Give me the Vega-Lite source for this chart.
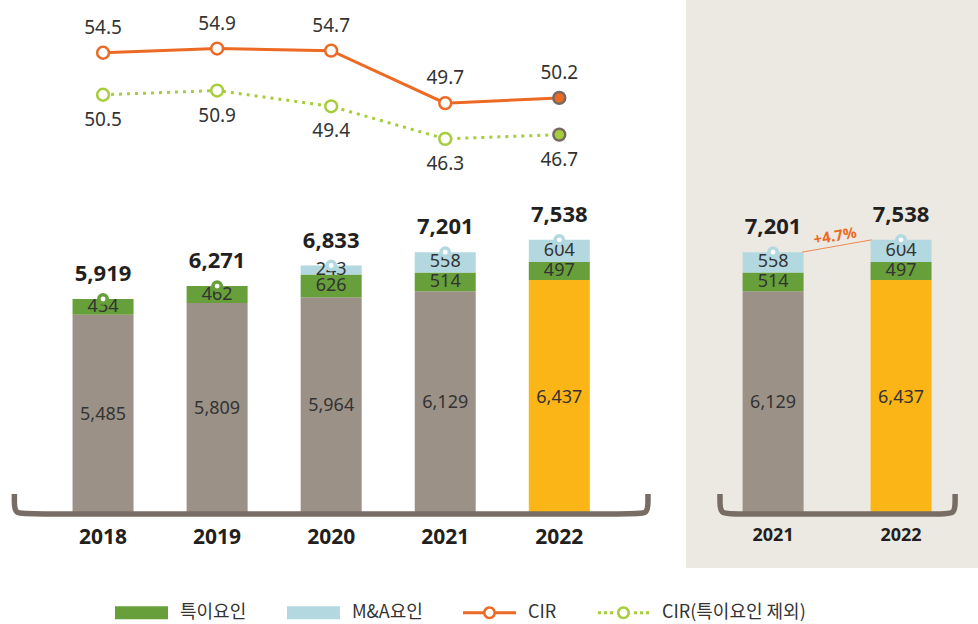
{
  "$schema": "https://vega.github.io/schema/vega-lite/v6.json",
  "padding": 0,
  "autosize": {"type": "pad"},
  "background": "white",
  "spacing": 0,
  "bounds": "flush",
  "config": {
    "view": {"stroke": null},
    "font": "Noto Sans",
    "legend": {
      "orient": "none",
      "legendX": 115,
      "legendY": 586,
      "direction": "horizontal",
      "symbolSize": 2809,
      "symbolStrokeWidth": 0,
      "symbolOpacity": 1,
      "labelOffset": 12,
      "columnPadding": 40,
      "labelFont": "Noto Sans CJK KR",
      "labelFontSize": 18,
      "labelColor": "#333333",
      "padding": 0
    }
  },
  "datasets": {
    "bars": [
      {"year": 2018, "type": "기본", "ord": 1, "value": 5485},
      {"year": 2018, "type": "특이요인", "ord": 2, "value": 434},
      {"year": 2019, "type": "기본", "ord": 1, "value": 5809},
      {"year": 2019, "type": "특이요인", "ord": 2, "value": 462},
      {"year": 2020, "type": "기본", "ord": 1, "value": 5964},
      {"year": 2020, "type": "특이요인", "ord": 2, "value": 626},
      {"year": 2020, "type": "M&A요인", "ord": 3, "value": 243},
      {"year": 2021, "type": "기본", "ord": 1, "value": 6129},
      {"year": 2021, "type": "특이요인", "ord": 2, "value": 514},
      {"year": 2021, "type": "M&A요인", "ord": 3, "value": 558},
      {"year": 2022, "type": "기본", "ord": 1, "value": 6437},
      {"year": 2022, "type": "특이요인", "ord": 2, "value": 497},
      {"year": 2022, "type": "M&A요인", "ord": 3, "value": 604}
    ],
    "totals": [
      {"year": 2018, "total": 5919},
      {"year": 2019, "total": 6271},
      {"year": 2020, "total": 6833},
      {"year": 2021, "total": 7201},
      {"year": 2022, "total": 7538}
    ],
    "ratio": [
      {"year": 2018, "cir": 54.5, "excl": 50.5},
      {"year": 2019, "cir": 54.9, "excl": 50.9},
      {"year": 2020, "cir": 54.7, "excl": 49.4},
      {"year": 2021, "cir": 49.7, "excl": 46.3},
      {"year": 2022, "cir": 50.2, "excl": 46.7}
    ],
    "growth": [
      {"from": 2021.2264, "to": 2021.7698, "v0": 7201, "v1": 7538, "mid": 2021.498, "vm": 7369.5, "label": "+4.7%"}
    ],
    "bracketL": [
      {"o": 1, "x": 2017.2225, "y": 575},
      {"o": 2, "x": 2017.2225, "y": 411},
      {"o": 3, "x": 2017.2225, "y": 27},
      {"o": 4, "x": 2017.3391, "y": 27},
      {"o": 5, "x": 2022.6652, "y": 27},
      {"o": 6, "x": 2022.7775, "y": 27},
      {"o": 7, "x": 2022.7775, "y": 411},
      {"o": 8, "x": 2022.7775, "y": 575}
    ],
    "bracketR": [
      {"o": 1, "x": 2020.5849, "y": 575},
      {"o": 2, "x": 2020.5849, "y": 411},
      {"o": 3, "x": 2020.5849, "y": 27},
      {"o": 4, "x": 2020.6868, "y": 27},
      {"o": 5, "x": 2022.3245, "y": 27},
      {"o": 6, "x": 2022.4226, "y": 27},
      {"o": 7, "x": 2022.4226, "y": 411},
      {"o": 8, "x": 2022.4226, "y": 575}
    ],
    "legend": [
      {"item": "특이요인"},
      {"item": "M&A요인"},
      {"item": "CIR"},
      {"item": "CIR(특이요인 제외)"}
    ]
  },
  "vconcat": [
    {
      "spacing": 0,
      "bounds": "flush",
      "hconcat": [
        {
          "width": 686,
          "height": 568,
          "layer": [
            {
              "layer": [
                {
                  "data": {"name": "bars"},
                  "mark": {"type": "bar", "width": 61},
                  "encoding": {
                    "x": {"field": "year", "type": "quantitative", "scale": {"domain": [2017.1404, 2023.067], "nice": false, "zero": false}, "axis": null},
                    "y": {"field": "value", "type": "quantitative", "stack": "zero", "scale": {"domain": [-1452, 14109], "nice": false, "zero": false}, "axis": null},
                    "detail": {"field": "type", "type": "nominal"},
                    "order": {"field": "ord", "type": "quantitative"},
                    "color": {
                      "condition": [
                        {"test": "datum.type === '특이요인'", "value": "#679f3a"},
                        {"test": "datum.type === 'M&A요인'", "value": "#b3d8e0"},
                        {"test": "datum.year === 2022", "value": "#fbb516"}
                      ],
                      "value": "#9c9187"
                    }
                  }
                },
                {
                  "data": {"name": "bars"},
                  "mark": {"type": "text", "fontSize": 18, "color": "#333333", "baseline": "middle", "align": "center"},
                  "encoding": {
                    "x": {"field": "year", "type": "quantitative"},
                    "y": {"field": "value", "type": "quantitative", "stack": "zero", "bandPosition": 0.5},
                    "detail": {"field": "type", "type": "nominal"},
                    "order": {"field": "ord", "type": "quantitative"},
                    "text": {"field": "value", "type": "quantitative", "format": ","}
                  }
                },
                {
                  "data": {"name": "bracketL"},
                  "mark": {"type": "line", "color": "#786d64", "strokeWidth": 5.5, "interpolate": "basis", "strokeCap": "butt"},
                  "encoding": {
                    "x": {"field": "x", "type": "quantitative"},
                    "y": {"field": "y", "type": "quantitative"},
                    "order": {"field": "o", "type": "quantitative"}
                  }
                },
                {
                  "data": {"name": "totals"},
                  "mark": {"type": "point", "filled": true, "opacity": 1, "size": 71, "strokeWidth": 3.5, "fill": "white"},
                  "encoding": {
                    "x": {"field": "year", "type": "quantitative"},
                    "y": {"field": "total", "type": "quantitative"},
                    "stroke": {"condition": {"test": "datum.year <= 2019", "value": "#679f3a"}, "value": "#b3d8e0"}
                  }
                },
                {
                  "data": {"name": "totals"},
                  "mark": {"type": "text", "fontSize": 22, "fontWeight": "bold", "color": "#231f20", "baseline": "middle", "dy": -25},
                  "encoding": {
                    "x": {"field": "year", "type": "quantitative"},
                    "y": {"field": "total", "type": "quantitative"},
                    "text": {"field": "total", "type": "quantitative", "format": ","}
                  }
                },
                {
                  "data": {"name": "totals"},
                  "mark": {"type": "text", "fontSize": 21, "fontWeight": "bold", "color": "#231f20", "baseline": "middle"},
                  "encoding": {
                    "x": {"field": "year", "type": "quantitative"},
                    "y": {"datum": -630, "type": "quantitative"},
                    "text": {"field": "year", "type": "nominal"}
                  }
                }
              ]
            },
            {
              "data": {"name": "ratio"},
              "layer": [
                {
                  "mark": {"type": "line", "color": "#ec6a24", "strokeWidth": 3},
                  "encoding": {
                    "x": {"field": "year", "type": "quantitative"},
                    "y": {"field": "cir", "type": "quantitative", "scale": {"domain": [5.429, 59.524], "nice": false, "zero": false}, "axis": null}
                  }
                },
                {
                  "mark": {"type": "line", "color": "#a6cd3a", "strokeWidth": 3, "strokeDash": [3, 5]},
                  "encoding": {
                    "x": {"field": "year", "type": "quantitative"},
                    "y": {"field": "excl", "type": "quantitative"}
                  }
                },
                {
                  "mark": {"type": "point", "filled": true, "opacity": 1, "size": 140, "strokeWidth": 2.5},
                  "encoding": {
                    "x": {"field": "year", "type": "quantitative"},
                    "y": {"field": "cir", "type": "quantitative"},
                    "fill": {"condition": {"test": "datum.year === 2022", "value": "#ec6a24"}, "value": "white"},
                    "stroke": {"condition": {"test": "datum.year === 2022", "value": "#776b61"}, "value": "#ec6a24"}
                  }
                },
                {
                  "mark": {"type": "point", "filled": true, "opacity": 1, "size": 140, "strokeWidth": 2.5},
                  "encoding": {
                    "x": {"field": "year", "type": "quantitative"},
                    "y": {"field": "excl", "type": "quantitative"},
                    "fill": {"condition": {"test": "datum.year === 2022", "value": "#a6cd3a"}, "value": "white"},
                    "stroke": {"condition": {"test": "datum.year === 2022", "value": "#776b61"}, "value": "#a6cd3a"}
                  }
                },
                {
                  "mark": {"type": "text", "fontSize": 19, "color": "#333333", "baseline": "middle", "dy": -25},
                  "encoding": {
                    "x": {"field": "year", "type": "quantitative"},
                    "y": {"field": "cir", "type": "quantitative"},
                    "text": {"field": "cir", "type": "quantitative", "format": ".1f"}
                  }
                },
                {
                  "mark": {"type": "text", "fontSize": 19, "color": "#333333", "baseline": "middle", "dy": 25},
                  "encoding": {
                    "x": {"field": "year", "type": "quantitative"},
                    "y": {"field": "excl", "type": "quantitative"},
                    "text": {"field": "excl", "type": "quantitative", "format": ".1f"}
                  }
                }
              ]
            }
          ],
          "resolve": {"scale": {"y": "independent"}}
        },
        {
          "width": 292,
          "height": 568,
          "view": {"fill": "#ece9e3", "stroke": null},
          "layer": [
            {
              "data": {"name": "bars"},
              "transform": [{"filter": "datum.year >= 2021"}],
              "mark": {"type": "bar", "width": 61},
              "encoding": {
                "x": {"field": "year", "type": "quantitative", "scale": {"domain": [2020.3585, 2022.5623], "nice": false, "zero": false}, "axis": null},
                "y": {"field": "value", "type": "quantitative", "stack": "zero", "scale": {"domain": [-1452, 14109], "nice": false, "zero": false}, "axis": null},
                "detail": {"field": "type", "type": "nominal"},
                "order": {"field": "ord", "type": "quantitative"},
                "color": {
                  "condition": [
                    {"test": "datum.type === '특이요인'", "value": "#679f3a"},
                    {"test": "datum.type === 'M&A요인'", "value": "#b3d8e0"},
                    {"test": "datum.year === 2022", "value": "#fbb516"}
                  ],
                  "value": "#9c9187"
                }
              }
            },
            {
              "data": {"name": "bars"},
              "transform": [{"filter": "datum.year >= 2021"}],
              "mark": {"type": "text", "fontSize": 18, "color": "#333333", "baseline": "middle", "align": "center"},
              "encoding": {
                "x": {"field": "year", "type": "quantitative"},
                "y": {"field": "value", "type": "quantitative", "stack": "zero", "bandPosition": 0.5},
                "detail": {"field": "type", "type": "nominal"},
                "order": {"field": "ord", "type": "quantitative"},
                "text": {"field": "value", "type": "quantitative", "format": ","}
              }
            },
            {
              "data": {"name": "bracketR"},
              "mark": {"type": "line", "color": "#786d64", "strokeWidth": 5.5, "interpolate": "basis", "strokeCap": "butt"},
              "encoding": {
                "x": {"field": "x", "type": "quantitative"},
                "y": {"field": "y", "type": "quantitative"},
                "order": {"field": "o", "type": "quantitative"}
              }
            },
            {
              "data": {"name": "growth"},
              "mark": {"type": "rule", "color": "#ef8a4f", "strokeWidth": 1},
              "encoding": {
                "x": {"field": "from", "type": "quantitative"},
                "x2": {"field": "to"},
                "y": {"field": "v0", "type": "quantitative"},
                "y2": {"field": "v1"}
              }
            },
            {
              "data": {"name": "growth"},
              "mark": {"type": "text", "fontSize": 15, "fontWeight": "bold", "color": "#ec6a24", "baseline": "middle", "angle": 350, "dy": -10},
              "encoding": {
                "x": {"field": "mid", "type": "quantitative"},
                "y": {"field": "vm", "type": "quantitative"},
                "text": {"field": "label", "type": "nominal"}
              }
            },
            {
              "data": {"name": "totals"},
              "transform": [{"filter": "datum.year >= 2021"}],
              "mark": {"type": "point", "filled": true, "opacity": 1, "size": 71, "strokeWidth": 3.5, "fill": "white", "stroke": "#b3d8e0"},
              "encoding": {
                "x": {"field": "year", "type": "quantitative"},
                "y": {"field": "total", "type": "quantitative"}
              }
            },
            {
              "data": {"name": "totals"},
              "transform": [{"filter": "datum.year >= 2021"}],
              "mark": {"type": "text", "fontSize": 22, "fontWeight": "bold", "color": "#231f20", "baseline": "middle", "dy": -25},
              "encoding": {
                "x": {"field": "year", "type": "quantitative"},
                "y": {"field": "total", "type": "quantitative"},
                "text": {"field": "total", "type": "quantitative", "format": ","}
              }
            },
            {
              "data": {"name": "totals"},
              "transform": [{"filter": "datum.year >= 2021"}],
              "mark": {"type": "text", "fontSize": 18, "fontWeight": "bold", "color": "#231f20", "baseline": "middle"},
              "encoding": {
                "x": {"field": "year", "type": "quantitative"},
                "y": {"datum": -575, "type": "quantitative"},
                "text": {"field": "year", "type": "nominal"}
              }
            }
          ]
        }
      ]
    },
    {
      "width": 978,
      "height": 56,
      "data": {"name": "legend"},
      "mark": {"type": "point", "filled": true, "opacity": 1, "strokeWidth": 0, "clip": true},
      "encoding": {
        "x": {"datum": 5, "type": "quantitative", "scale": {"domain": [0, 1], "nice": false, "zero": false}, "axis": null},
        "y": {"datum": 5, "type": "quantitative", "scale": {"domain": [0, 1], "nice": false, "zero": false}, "axis": null},
        "shape": {
          "field": "item", "type": "nominal",
          "scale": {
            "domain": ["특이요인", "M&A요인", "CIR", "CIR(특이요인 제외)"],
            "range": [
              "M-1,-0.245H1V0.245H-1Z",
              "M-1,-0.245H1V0.245H-1Z",
              "M-1,-0.06H-0.2V0.06H-1Z M0.2,-0.06H1V0.06H0.2Z M0.245,0A0.245,0.245,0,1,1,-0.245,0A0.245,0.245,0,1,1,0.245,0Z M0.151,0A0.151,0.151,0,1,0,-0.151,0A0.151,0.151,0,1,0,0.151,0Z",
              "M-0.966,-0.06H-0.846V0.06H-0.966Z M-0.739,-0.06H-0.619V0.06H-0.739Z M-0.513,-0.06H-0.393V0.06H-0.513Z M0.393,-0.06H0.513V0.06H0.393Z M0.619,-0.06H0.739V0.06H0.619Z M0.846,-0.06H0.966V0.06H0.846Z M0.245,0A0.245,0.245,0,1,1,-0.245,0A0.245,0.245,0,1,1,0.245,0Z M0.151,0A0.151,0.151,0,1,0,-0.151,0A0.151,0.151,0,1,0,0.151,0Z"
            ]
          },
          "legend": {"title": null}
        },
        "color": {
          "field": "item", "type": "nominal",
          "scale": {
            "domain": ["특이요인", "M&A요인", "CIR", "CIR(특이요인 제외)"],
            "range": ["#679f3a", "#b3d8e0", "#ec6a24", "#a6cd3a"]
          },
          "legend": {"title": null}
        }
      }
    }
  ]
}
